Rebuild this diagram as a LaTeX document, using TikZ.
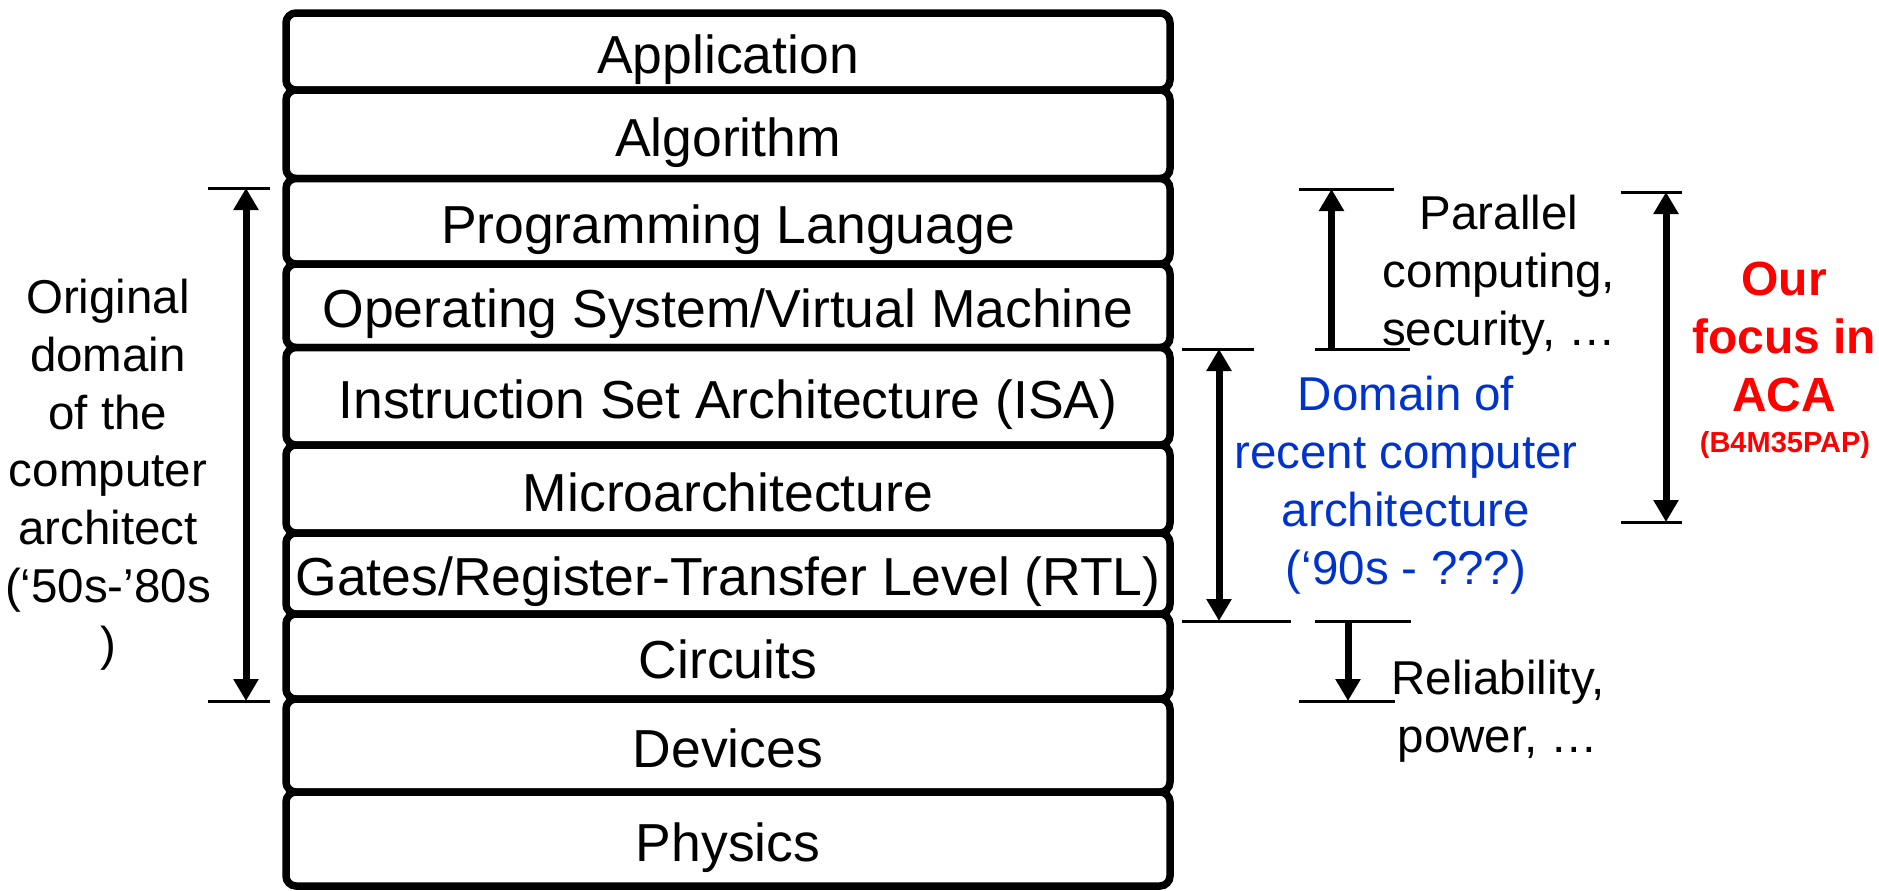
\documentclass[tikz,border=0pt]{standalone}
\usepackage{fontspec}
\setmainfont{Liberation Sans}
\usetikzlibrary{arrows.meta}
\definecolor{domblue}{RGB}{0,51,204}
\definecolor{acared}{RGB}{255,0,0}
\begin{document}
\begin{tikzpicture}[x=0.5pt,y=-0.5pt,
  layer/.style={draw=black, fill=white, line width=3.75pt, rounded corners=5pt,
    minimum width=442pt, inner sep=0pt, text height=23pt, text depth=1pt,
    font=\fontsize{26.75pt}{30pt}\selectfont},
  side/.style={align=center, inner sep=0pt, font=\fontsize{23.75pt}{28.85pt}\selectfont},
  thinline/.style={line width=1.5pt},
  onehead/.style={line width=3.5pt, -{Triangle[width=12pt,length=11pt]}},
  twohead/.style={line width=3.5pt, {Triangle[width=12pt,length=11pt]}-{Triangle[width=12pt,length=11pt]}},
]
\fill[white] (0,0) rectangle (1879,890);
\useasboundingbox (0,0) rectangle (1879,890);

% layer stack (adjacent boxes share their border)
\node[layer, minimum height=38.5pt]  (app)   at (728,51.5)   {Application};
\node[layer, minimum height=44.25pt] (alg)   at (728,134.25) {Algorithm};
\node[layer, minimum height=42.75pt] (pl)    at (728,221.25) {Programming Language};
\node[layer, minimum height=41.75pt] (os)    at (728,305.75) {Operating System/Virtual Machine};
\node[layer, minimum height=48.75pt] (isa)   at (728,396.25) {Instruction Set Architecture (ISA)};
\node[layer, minimum height=44pt]    (uarch) at (728,489)    {Microarchitecture};
\node[layer, minimum height=40.5pt]  (rtl)   at (728,573.5)  {Gates/Register-Transfer Level (RTL)};
\node[layer, minimum height=42.5pt]  (circ)  at (728,656.5)  {Circuits};
\node[layer, minimum height=46.5pt]  (dev)   at (728,745.5)  {Devices};
\node[layer, minimum height=47pt]    (phys)  at (728,839)    {Physics};

% left: original domain
\coordinate (lta) at (208,188); \coordinate (ltb) at (270,188);
\coordinate (lba) at (208,701); \coordinate (lbb) at (270,701);
\coordinate (lat) at (246,188); \coordinate (lab) at (246,701);
\draw[thinline] (lta) -- (ltb);
\draw[thinline] (lba) -- (lbb);
\draw[twohead] (lat) -- (lab);
\node[side, anchor=base] (orig) at (108,660)
  {Original\\domain\\of the\\computer\\architect\\(‘50s-’80s\\)};

% recent domain
\coordinate (dta) at (1182,349); \coordinate (dtb) at (1254,349);
\coordinate (dba) at (1182,621); \coordinate (dbb) at (1291,621);
\coordinate (dat) at (1219,349); \coordinate (dab) at (1219,621);
\draw[thinline] (dta) -- (dtb);
\draw[thinline] (dba) -- (dbb);
\draw[twohead] (dat) -- (dab);
\node[side, anchor=base, text=domblue] (dom) at (1406,584)
  {Domain of\\recent computer\\architecture\\(‘90s - ???)};

% parallel computing
\coordinate (pta) at (1299,189); \coordinate (ptb) at (1394,189);
\coordinate (pba) at (1315,349); \coordinate (pbb) at (1410,349);
\coordinate (pat) at (1331.5,189); \coordinate (pab) at (1331.5,349);
\draw[thinline] (pta) -- (ptb);
\draw[thinline] (pba) -- (pbb);
\draw[onehead] (pab) -- (pat);
\node[side, anchor=base] (par) at (1499,345) {Parallel\\computing,\\security, …};

% reliability
\coordinate (rta) at (1315,621); \coordinate (rtb) at (1411,621);
\coordinate (rba) at (1299,701); \coordinate (rbb) at (1395,701);
\coordinate (rat) at (1348,621); \coordinate (rab) at (1348,701);
\draw[thinline] (rta) -- (rtb);
\draw[thinline] (rba) -- (rbb);
\draw[onehead] (rat) -- (rab);
\node[side, anchor=base] (rel) at (1498,752) {Reliability,\\power, …};

% our focus
\coordinate (fta) at (1621,192); \coordinate (ftb) at (1682,192);
\coordinate (fba) at (1621,522); \coordinate (fbb) at (1682,522);
\coordinate (fat) at (1666,192); \coordinate (fab) at (1666,522);
\draw[thinline] (fta) -- (ftb);
\draw[thinline] (fba) -- (fbb);
\draw[twohead] (fat) -- (fab);
\node[side, anchor=base, text=acared, font=\bfseries\fontsize{24pt}{29pt}\selectfont] (foc) at (1784,411)
  {Our\\focus in\\ACA};
\node[anchor=base, inner sep=0pt, text=acared, font=\bfseries\fontsize{14.5pt}{17pt}\selectfont] (code) at (1785,452) {(B4M35PAP)};
\end{tikzpicture}
\end{document}
